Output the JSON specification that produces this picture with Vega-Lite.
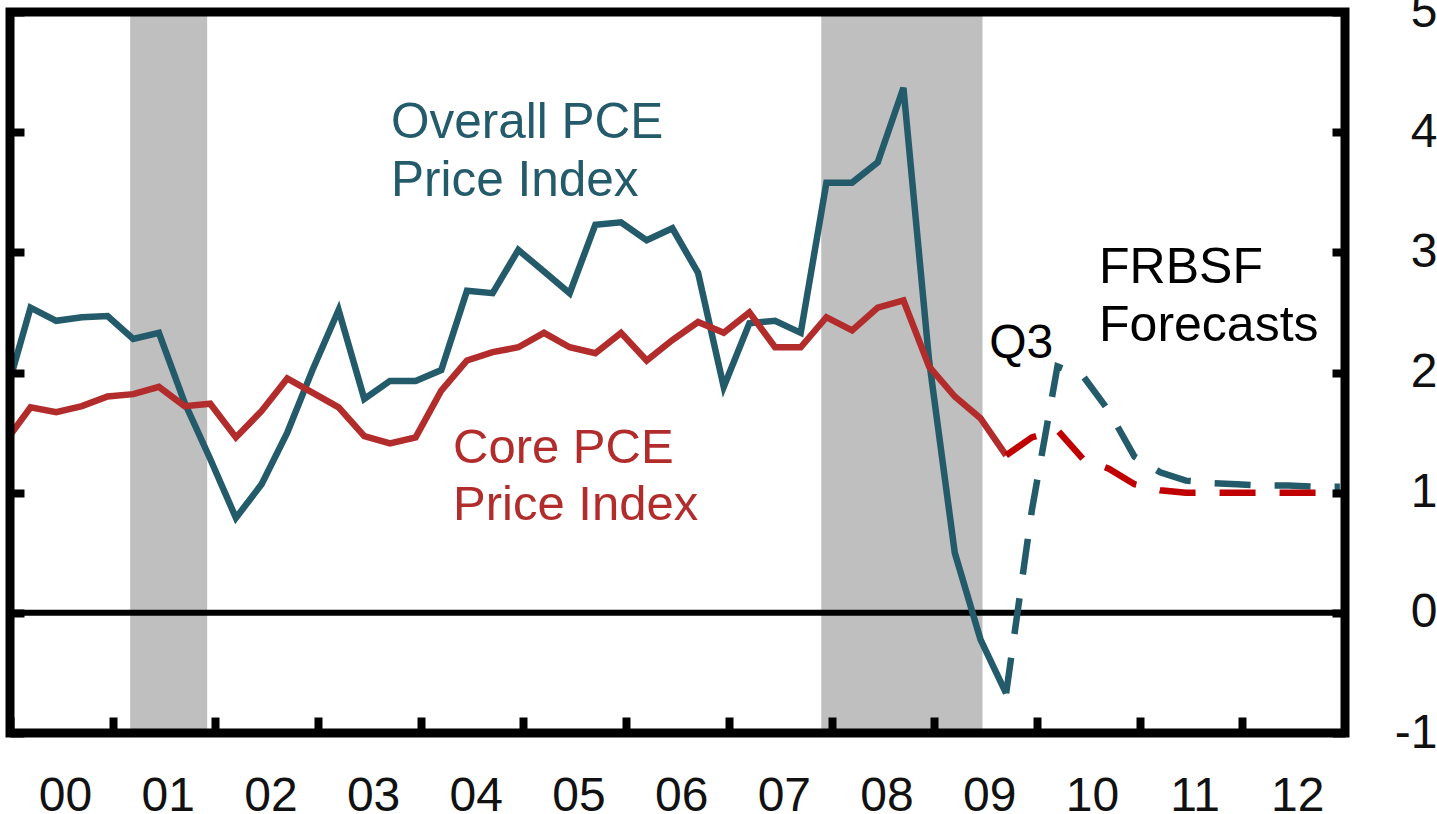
{
  "$schema": "https://vega.github.io/schema/vega-lite/v6.json",
  "width": 1335,
  "height": 721,
  "autosize": {"type": "none"},
  "padding": {"left": 10, "top": 12, "right": 92, "bottom": 81},
  "background": "white",
  "config": {"view": {"stroke": null}, "font": "Liberation Sans"},
  "datasets": {
    "one": [{}],
    "recessions": [
      {"start": 2001.17, "end": 2001.92},
      {"start": 2007.9, "end": 2009.47}
    ],
    "pce": [
      {"t": 1999.95, "series": "Overall", "phase": "Actual", "v": 1.79},
      {"t": 2000.2, "series": "Overall", "phase": "Actual", "v": 2.54},
      {"t": 2000.45, "series": "Overall", "phase": "Actual", "v": 2.43},
      {"t": 2000.7, "series": "Overall", "phase": "Actual", "v": 2.46},
      {"t": 2000.95, "series": "Overall", "phase": "Actual", "v": 2.47},
      {"t": 2001.2, "series": "Overall", "phase": "Actual", "v": 2.28},
      {"t": 2001.45, "series": "Overall", "phase": "Actual", "v": 2.33},
      {"t": 2001.7, "series": "Overall", "phase": "Actual", "v": 1.75},
      {"t": 2001.95, "series": "Overall", "phase": "Actual", "v": 1.28},
      {"t": 2002.2, "series": "Overall", "phase": "Actual", "v": 0.79},
      {"t": 2002.45, "series": "Overall", "phase": "Actual", "v": 1.07},
      {"t": 2002.7, "series": "Overall", "phase": "Actual", "v": 1.5},
      {"t": 2002.95, "series": "Overall", "phase": "Actual", "v": 2.03},
      {"t": 2003.2, "series": "Overall", "phase": "Actual", "v": 2.52},
      {"t": 2003.45, "series": "Overall", "phase": "Actual", "v": 1.78},
      {"t": 2003.7, "series": "Overall", "phase": "Actual", "v": 1.93},
      {"t": 2003.95, "series": "Overall", "phase": "Actual", "v": 1.93},
      {"t": 2004.2, "series": "Overall", "phase": "Actual", "v": 2.02},
      {"t": 2004.45, "series": "Overall", "phase": "Actual", "v": 2.68},
      {"t": 2004.7, "series": "Overall", "phase": "Actual", "v": 2.66},
      {"t": 2004.95, "series": "Overall", "phase": "Actual", "v": 3.02},
      {"t": 2005.2, "series": "Overall", "phase": "Actual", "v": 2.84},
      {"t": 2005.45, "series": "Overall", "phase": "Actual", "v": 2.66},
      {"t": 2005.7, "series": "Overall", "phase": "Actual", "v": 3.23},
      {"t": 2005.95, "series": "Overall", "phase": "Actual", "v": 3.25},
      {"t": 2006.2, "series": "Overall", "phase": "Actual", "v": 3.1},
      {"t": 2006.45, "series": "Overall", "phase": "Actual", "v": 3.2},
      {"t": 2006.7, "series": "Overall", "phase": "Actual", "v": 2.83},
      {"t": 2006.95, "series": "Overall", "phase": "Actual", "v": 1.88},
      {"t": 2007.2, "series": "Overall", "phase": "Actual", "v": 2.41},
      {"t": 2007.45, "series": "Overall", "phase": "Actual", "v": 2.43},
      {"t": 2007.7, "series": "Overall", "phase": "Actual", "v": 2.33},
      {"t": 2007.95, "series": "Overall", "phase": "Actual", "v": 3.58},
      {"t": 2008.2, "series": "Overall", "phase": "Actual", "v": 3.58},
      {"t": 2008.45, "series": "Overall", "phase": "Actual", "v": 3.75},
      {"t": 2008.7, "series": "Overall", "phase": "Actual", "v": 4.37},
      {"t": 2008.95, "series": "Overall", "phase": "Actual", "v": 2.1},
      {"t": 2009.2, "series": "Overall", "phase": "Actual", "v": 0.5},
      {"t": 2009.45, "series": "Overall", "phase": "Actual", "v": -0.22},
      {"t": 2009.7, "series": "Overall", "phase": "Actual", "v": -0.67},
      {"t": 1999.95, "series": "Core", "phase": "Actual", "v": 1.42},
      {"t": 2000.2, "series": "Core", "phase": "Actual", "v": 1.71},
      {"t": 2000.45, "series": "Core", "phase": "Actual", "v": 1.67},
      {"t": 2000.7, "series": "Core", "phase": "Actual", "v": 1.72},
      {"t": 2000.95, "series": "Core", "phase": "Actual", "v": 1.8},
      {"t": 2001.2, "series": "Core", "phase": "Actual", "v": 1.82},
      {"t": 2001.45, "series": "Core", "phase": "Actual", "v": 1.88},
      {"t": 2001.7, "series": "Core", "phase": "Actual", "v": 1.72},
      {"t": 2001.95, "series": "Core", "phase": "Actual", "v": 1.74},
      {"t": 2002.2, "series": "Core", "phase": "Actual", "v": 1.46},
      {"t": 2002.45, "series": "Core", "phase": "Actual", "v": 1.68},
      {"t": 2002.7, "series": "Core", "phase": "Actual", "v": 1.95},
      {"t": 2002.95, "series": "Core", "phase": "Actual", "v": 1.83},
      {"t": 2003.2, "series": "Core", "phase": "Actual", "v": 1.71},
      {"t": 2003.45, "series": "Core", "phase": "Actual", "v": 1.47},
      {"t": 2003.7, "series": "Core", "phase": "Actual", "v": 1.41},
      {"t": 2003.95, "series": "Core", "phase": "Actual", "v": 1.46},
      {"t": 2004.2, "series": "Core", "phase": "Actual", "v": 1.85},
      {"t": 2004.45, "series": "Core", "phase": "Actual", "v": 2.1},
      {"t": 2004.7, "series": "Core", "phase": "Actual", "v": 2.17},
      {"t": 2004.95, "series": "Core", "phase": "Actual", "v": 2.21},
      {"t": 2005.2, "series": "Core", "phase": "Actual", "v": 2.33},
      {"t": 2005.45, "series": "Core", "phase": "Actual", "v": 2.21},
      {"t": 2005.7, "series": "Core", "phase": "Actual", "v": 2.16},
      {"t": 2005.95, "series": "Core", "phase": "Actual", "v": 2.33},
      {"t": 2006.2, "series": "Core", "phase": "Actual", "v": 2.1},
      {"t": 2006.45, "series": "Core", "phase": "Actual", "v": 2.27},
      {"t": 2006.7, "series": "Core", "phase": "Actual", "v": 2.42},
      {"t": 2006.95, "series": "Core", "phase": "Actual", "v": 2.33},
      {"t": 2007.2, "series": "Core", "phase": "Actual", "v": 2.5},
      {"t": 2007.45, "series": "Core", "phase": "Actual", "v": 2.21},
      {"t": 2007.7, "series": "Core", "phase": "Actual", "v": 2.21},
      {"t": 2007.95, "series": "Core", "phase": "Actual", "v": 2.46},
      {"t": 2008.2, "series": "Core", "phase": "Actual", "v": 2.35},
      {"t": 2008.45, "series": "Core", "phase": "Actual", "v": 2.54},
      {"t": 2008.7, "series": "Core", "phase": "Actual", "v": 2.6},
      {"t": 2008.95, "series": "Core", "phase": "Actual", "v": 2.05},
      {"t": 2009.2, "series": "Core", "phase": "Actual", "v": 1.8},
      {"t": 2009.45, "series": "Core", "phase": "Actual", "v": 1.62},
      {"t": 2009.7, "series": "Core", "phase": "Actual", "v": 1.31},
      {"t": 2009.7, "series": "Overall", "phase": "Forecast", "v": -0.67},
      {"t": 2009.95, "series": "Overall", "phase": "Forecast", "v": 0.85},
      {"t": 2010.2, "series": "Overall", "phase": "Forecast", "v": 2.05},
      {"t": 2010.45, "series": "Overall", "phase": "Forecast", "v": 1.97},
      {"t": 2010.7, "series": "Overall", "phase": "Forecast", "v": 1.68},
      {"t": 2010.95, "series": "Overall", "phase": "Forecast", "v": 1.3},
      {"t": 2011.2, "series": "Overall", "phase": "Forecast", "v": 1.17},
      {"t": 2011.45, "series": "Overall", "phase": "Forecast", "v": 1.1},
      {"t": 2011.7, "series": "Overall", "phase": "Forecast", "v": 1.08},
      {"t": 2011.95, "series": "Overall", "phase": "Forecast", "v": 1.07},
      {"t": 2012.2, "series": "Overall", "phase": "Forecast", "v": 1.06},
      {"t": 2012.45, "series": "Overall", "phase": "Forecast", "v": 1.06},
      {"t": 2012.7, "series": "Overall", "phase": "Forecast", "v": 1.05},
      {"t": 2012.95, "series": "Overall", "phase": "Forecast", "v": 1.05},
      {"t": 2009.7, "series": "Core", "phase": "Forecast", "v": 1.31},
      {"t": 2009.95, "series": "Core", "phase": "Forecast", "v": 1.46},
      {"t": 2010.2, "series": "Core", "phase": "Forecast", "v": 1.52},
      {"t": 2010.45, "series": "Core", "phase": "Forecast", "v": 1.28},
      {"t": 2010.7, "series": "Core", "phase": "Forecast", "v": 1.2},
      {"t": 2010.95, "series": "Core", "phase": "Forecast", "v": 1.07},
      {"t": 2011.2, "series": "Core", "phase": "Forecast", "v": 1.02},
      {"t": 2011.45, "series": "Core", "phase": "Forecast", "v": 1.0},
      {"t": 2011.7, "series": "Core", "phase": "Forecast", "v": 1.0},
      {"t": 2011.95, "series": "Core", "phase": "Forecast", "v": 1.0},
      {"t": 2012.2, "series": "Core", "phase": "Forecast", "v": 1.0},
      {"t": 2012.45, "series": "Core", "phase": "Forecast", "v": 1.0},
      {"t": 2012.7, "series": "Core", "phase": "Forecast", "v": 1.0},
      {"t": 2012.95, "series": "Core", "phase": "Forecast", "v": 1.0}
    ]
  },
  "resolve": {"axis": {"x": "independent", "y": "independent"}},
  "layer": [
    {
      "data": {"name": "recessions"},
      "mark": {"type": "rect", "fill": "#bfbfbf"},
      "encoding": {
        "x": {
          "field": "start", "type": "quantitative",
          "scale": {"domain": [2000, 2013], "nice": false, "zero": false},
          "axis": {
            "orient": "bottom", "title": null, "values": [2000, 2001, 2002, 2003, 2004, 2005, 2006, 2007, 2008, 2009, 2010, 2011, 2012],
            "labelExpr": "slice(format(datum.value, 'd'), 2)",
            "domain": false, "grid": false, "ticks": true, "tickSize": -16, "tickWidth": 8, "tickColor": "black",
            "labelFontSize": 48, "labelFont": "Liberation Sans", "labelColor": "#111111",
            "labelOffset": 55, "labelPadding": 93, "labelBaseline": "alphabetic", "labelAlign": "center",
            "labelOverlap": false, "labelFlush": false, "labelBound": false, "zindex": 1
          }
        },
        "x2": {"field": "end"},
        "y": {
          "datum": -1, "type": "quantitative",
          "scale": {"domain": [-1, 5], "nice": false, "zero": false},
          "axis": {
            "orient": "left", "title": null, "values": [-1, 0, 1, 2, 3, 4, 5], "labels": false,
            "domain": false, "grid": false, "ticks": true, "tickSize": -14, "tickWidth": 8, "tickColor": "black", "zindex": 1
          }
        },
        "y2": {"datum": 5}
      }
    },
    {
      "data": {"name": "one"},
      "mark": {"type": "rule", "color": "black", "strokeWidth": 6},
      "encoding": {
        "y": {"datum": 0, "type": "quantitative", "scale": {"domain": [-1, 5], "nice": false, "zero": false}, "axis": null}
      }
    },
    {
      "data": {"name": "pce"},
      "transform": [{"filter": "datum.series === 'Overall' && datum.phase === 'Actual'"}],
      "mark": {"type": "line", "color": "#245b6b", "strokeWidth": 6.5, "clip": true},
      "encoding": {
        "x": {"field": "t", "type": "quantitative", "scale": {"domain": [2000, 2013], "nice": false, "zero": false}, "axis": null},
        "y": {
          "field": "v", "type": "quantitative",
          "scale": {"domain": [-1, 5], "nice": false, "zero": false},
          "axis": {
            "orient": "right", "title": null, "values": [-1, 0, 1, 2, 3, 4, 5],
            "labelExpr": "datum.value < 0 ? '-' + abs(datum.value) : '' + datum.value",
            "domain": false, "grid": false, "ticks": true, "tickSize": -13, "tickWidth": 8, "tickColor": "black",
            "labelFontSize": 48, "labelFont": "Liberation Sans", "labelColor": "#111111",
            "labelPadding": 105, "labelAlign": "right", "labelBaseline": "middle",
            "labelOverlap": false, "labelFlush": false, "labelBound": false, "zindex": 1
          }
        }
      }
    },
    {
      "data": {"name": "pce"},
      "transform": [{"filter": "datum.series === 'Core' && datum.phase === 'Actual'"}],
      "mark": {"type": "line", "color": "#b32c2c", "strokeWidth": 6.5, "clip": true},
      "encoding": {
        "x": {"field": "t", "type": "quantitative", "scale": {"domain": [2000, 2013], "nice": false, "zero": false}, "axis": null},
        "y": {"field": "v", "type": "quantitative", "scale": {"domain": [-1, 5], "nice": false, "zero": false}, "axis": null}
      }
    },
    {
      "data": {"name": "pce"},
      "transform": [{"filter": "datum.series === 'Overall' && datum.phase === 'Forecast'"}],
      "mark": {"type": "line", "color": "#245b6b", "strokeWidth": 6.5, "strokeDash": [36, 24], "clip": true},
      "encoding": {
        "x": {"field": "t", "type": "quantitative", "scale": {"domain": [2000, 2013], "nice": false, "zero": false}, "axis": null},
        "y": {"field": "v", "type": "quantitative", "scale": {"domain": [-1, 5], "nice": false, "zero": false}, "axis": null}
      }
    },
    {
      "data": {"name": "pce"},
      "transform": [{"filter": "datum.series === 'Core' && datum.phase === 'Forecast'"}],
      "mark": {"type": "line", "color": "#c00000", "strokeWidth": 6.5, "strokeDash": [36, 24], "clip": true},
      "encoding": {
        "x": {"field": "t", "type": "quantitative", "scale": {"domain": [2000, 2013], "nice": false, "zero": false}, "axis": null},
        "y": {"field": "v", "type": "quantitative", "scale": {"domain": [-1, 5], "nice": false, "zero": false}, "axis": null}
      }
    },
    {
      "data": {"name": "one"},
      "mark": {"type": "text", "text": ["Overall PCE", "Price Index"], "align": "left", "baseline": "alphabetic", "fontSize": 49.5, "lineHeight": 58, "color": "#245b6b", "font": "Liberation Sans"},
      "encoding": {
        "x": {"datum": 2003.71, "type": "quantitative", "scale": {"domain": [2000, 2013], "nice": false, "zero": false}, "axis": null},
        "y": {"datum": 3.951, "type": "quantitative", "scale": {"domain": [-1, 5], "nice": false, "zero": false}, "axis": null}
      }
    },
    {
      "data": {"name": "one"},
      "mark": {"type": "text", "text": ["Core PCE", "Price Index"], "align": "left", "baseline": "alphabetic", "fontSize": 49, "lineHeight": 57, "color": "#b32c2c", "font": "Liberation Sans"},
      "encoding": {
        "x": {"datum": 2004.314, "type": "quantitative", "scale": {"domain": [2000, 2013], "nice": false, "zero": false}, "axis": null},
        "y": {"datum": 1.247, "type": "quantitative", "scale": {"domain": [-1, 5], "nice": false, "zero": false}, "axis": null}
      }
    },
    {
      "data": {"name": "one"},
      "mark": {"type": "text", "text": ["FRBSF", "Forecasts"], "align": "left", "baseline": "alphabetic", "fontSize": 50, "lineHeight": 58, "color": "black", "font": "Liberation Sans"},
      "encoding": {
        "x": {"datum": 2010.605, "type": "quantitative", "scale": {"domain": [2000, 2013], "nice": false, "zero": false}, "axis": null},
        "y": {"datum": 2.745, "type": "quantitative", "scale": {"domain": [-1, 5], "nice": false, "zero": false}, "axis": null}
      }
    },
    {
      "data": {"name": "one"},
      "mark": {"type": "text", "text": "Q3", "align": "left", "baseline": "alphabetic", "fontSize": 48, "color": "black", "font": "Liberation Sans"},
      "encoding": {
        "x": {"datum": 2009.535, "type": "quantitative", "scale": {"domain": [2000, 2013], "nice": false, "zero": false}, "axis": null},
        "y": {"datum": 2.121, "type": "quantitative", "scale": {"domain": [-1, 5], "nice": false, "zero": false}, "axis": null}
      }
    },
    {
      "data": {"name": "one"},
      "mark": {"type": "rect", "fill": null, "fillOpacity": 0, "stroke": "black", "strokeWidth": 9},
      "encoding": {
        "x": {"datum": 2000, "type": "quantitative", "scale": {"domain": [2000, 2013], "nice": false, "zero": false}, "axis": null},
        "x2": {"datum": 2013},
        "y": {"datum": -1, "type": "quantitative", "scale": {"domain": [-1, 5], "nice": false, "zero": false}, "axis": null},
        "y2": {"datum": 5}
      }
    }
  ]
}
